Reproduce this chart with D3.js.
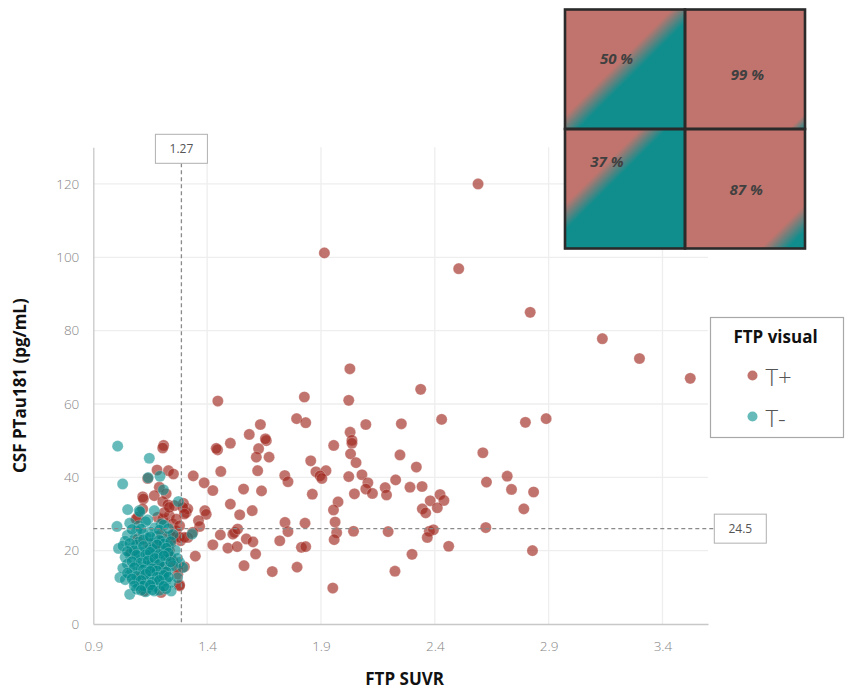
<!DOCTYPE html>
<html>
<head>
<meta charset="utf-8">
<script src="https://cdn.jsdelivr.net/npm/d3@7"></script>
<style>
  html, body { margin: 0; padding: 0; background: #fff; }
  svg { display: block; font-family: "Open Sans", "Noto Sans", sans-serif; }
</style>
</head>
<body>
<div id="chart"></div>
<script>
// ---------------- DATA ----------------
const xTicks = [0.9, 1.4, 1.9, 2.4, 2.9, 3.4];
const yTicks = [0, 20, 40, 60, 80, 100, 120];
const xDomain = [0.9, 3.6];
const yDomain = [0, 130];

const seriesNames = ["T+", "T-"];
const legendTitle = "FTP visual";
const xTitle = "FTP SUVR";
const yTitle = "CSF PTau181 (pg/mL)";

// cut-offs: position, printed label
const ftpCut = 1.287, ftpCutLabel = "1.27";
const ptauCut = 26.0, ptauCutLabel = "24.5";

// inset quadrant percentages: [top-left, top-right, bottom-left, bottom-right]
const quadPct = [50, 99, 37, 87];

// FTP visual T+ (x = FTP SUVR, y = CSF PTau181)
const tPlus = [
  [2.59,120.0],[1.915,101.2],[2.505,96.9],[2.819,85.0],[3.136,77.8],[3.299,72.4],[3.522,67.0],
  [2.027,69.6],[1.827,61.9],[2.022,61.0],[2.338,64.0],[1.447,60.8],
  [1.793,56.0],[1.833,54.9],[2.097,54.4],[2.253,54.6],[2.430,55.8],[2.798,55.0],[2.889,56.0],
  [1.634,54.4],[1.585,51.7],[1.502,49.3],[1.660,50.0],[1.656,50.5],[1.446,47.5],[1.440,47.9],
  [1.626,47.8],[1.616,45.5],[1.672,45.5],
  [1.956,48.7],[2.028,52.3],[2.036,50.1],[2.036,49.3],[2.030,46.4],[2.247,46.1],[2.611,46.7],
  [1.855,44.5],[2.054,44.0],[2.319,42.8],[1.878,41.5],[1.922,41.8],[1.896,40.4],[1.904,39.7],
  [1.741,40.5],[1.755,38.8],[2.022,40.2],[2.080,40.7],[2.228,39.3],[2.106,38.5],[2.718,40.3],[2.627,38.7],
  [1.862,35.4],[2.097,36.8],[2.126,35.6],[2.047,35.5],[2.182,37.2],[2.188,35.2],[2.291,37.3],
  [2.344,37.5],[2.737,36.7],[2.834,36.0],[2.423,35.3],[2.440,33.7],[2.380,33.6],[1.975,33.3],
  [1.955,31.1],[2.345,31.4],[2.360,30.3],[2.411,31.7],[2.791,31.4],
  [1.742,27.7],[1.830,27.5],[1.962,27.8],[1.755,25.2],[1.969,24.9],[2.043,25.3],[2.195,25.2],
  [2.376,25.3],[2.394,25.7],[2.624,26.3],
  [1.719,22.7],[1.958,23.0],[2.367,23.6],[1.814,20.9],[1.833,21.1],[2.461,21.2],[2.829,20.0],
  [2.300,19.0],[1.795,15.5],[2.225,14.4],[1.952,9.8],
  [1.460,41.6],[1.622,41.8],[1.339,40.4],[1.387,38.5],[1.425,36.4],[1.560,36.8],[1.639,36.3],
  [1.502,32.7],[1.543,29.8],[1.598,30.9],
  [1.521,25.0],[1.513,24.5],[1.534,25.9],[1.458,24.3],[1.425,21.6],[1.491,20.7],[1.532,21.1],
  [1.572,23.2],[1.601,22.4],[1.613,19.1],[1.562,15.9],[1.686,14.3],
  [1.390,30.9],[1.396,29.9],[1.362,28.2],[1.367,26.6],[1.348,18.5],[1.337,25.0],[1.308,30.4],
  [1.315,31.4],[1.296,32.9],[1.283,22.7],[1.315,23.6],[1.300,15.6],[1.279,10.7],
  [1.209,48.7],[1.205,48.0],[1.180,42.0],[1.230,41.8],[1.252,40.9],[1.139,39.7],
  [1.190,37.3],[1.117,34.7],[1.120,34.1],[1.168,35.0],[1.220,35.5],[1.205,33.4],[1.227,32.5],[1.256,32.3],
  [1.095,29.1],[1.117,31.4],[1.183,29.1],[1.205,28.6],[1.234,29.5],[1.249,27.3],[1.264,25.4],
  [1.256,23.6],[1.242,22.2],[1.234,20.0],[1.249,17.2],[1.271,15.4],[1.271,13.6],[1.066,19.5],
  [1.190,20.9],[1.124,9.0],[1.198,8.6],[1.088,28.6],[1.212,30.4],[1.242,24.1],[1.279,23.6],
  [1.300,23.6],[1.279,10.4],[1.234,31.8],[1.293,31.8],[1.300,30.0],[1.264,28.6],[1.279,26.8],
  [1.183,21.5],[1.212,15.4],[1.095,23.2],[1.140,22.0],[1.170,16.0],[1.200,24.5],[1.110,13.0],[1.230,18.5]
];

// FTP visual T-
const tMinus = [
  [1.007,48.5],[1.146,45.2],[1.141,39.9],[1.193,40.3],[1.029,38.2],[1.208,36.6],[1.274,33.4],
  [1.051,31.2],[1.102,30.9],[1.168,30.9],[1.004,26.6],[1.011,20.6],[1.017,12.7],[1.060,8.1],
  [1.242,9.0],[1.168,9.0],[1.279,16.8],[1.293,15.4],[1.334,24.5],[1.139,28.4],[1.198,27.3],[1.105,30.6],
  [1.06,27.5],[1.10,26.8],[1.13,27.9],[1.17,26.2],[1.21,27.0],[1.09,25.4],[1.15,25.1],
  [1.05,24.2],[1.08,23.1],[1.12,24.6],[1.14,23.4],[1.18,24.0],[1.22,23.8],[1.25,24.4],[1.04,22.6],
  [1.10,22.4],[1.16,22.1],[1.20,22.7],
  [1.03,21.3],[1.07,20.8],[1.09,21.6],[1.13,20.2],[1.15,21.0],[1.19,20.5],[1.23,21.4],[1.26,20.1],
  [1.11,19.6],[1.17,19.2],[1.21,19.8],[1.06,19.0],
  [1.04,18.2],[1.08,17.6],[1.10,18.5],[1.12,17.1],[1.14,18.8],[1.16,17.4],[1.18,18.1],[1.20,16.9],
  [1.22,17.7],[1.24,18.4],[1.27,17.9],[1.05,16.4],[1.09,16.1],[1.13,15.8],[1.15,16.6],
  [1.03,15.2],[1.07,14.6],[1.11,15.0],[1.14,14.2],[1.17,15.4],[1.19,14.0],[1.21,15.6],[1.23,14.8],
  [1.25,15.9],[1.06,13.4],[1.10,13.1],[1.16,13.7],[1.20,12.9],[1.12,12.4],
  [1.04,12.1],[1.08,11.6],[1.13,11.2],[1.15,12.2],[1.18,11.5],[1.22,12.0],[1.24,11.3],[1.27,12.6],
  [1.10,10.5],[1.17,10.2],[1.20,10.8],[1.14,9.8],[1.09,9.5],[1.19,9.2],[1.13,8.8],[1.22,9.6],
  [1.07,25.8],[1.11,25.9],[1.19,25.6],[1.23,26.0],[1.06,22.0],[1.12,23.0],[1.15,23.8],[1.19,22.9],
  [1.21,21.9],[1.24,22.5],[1.08,20.0],[1.12,21.2],[1.16,20.4],[1.18,21.6],[1.22,20.7],[1.05,19.8],
  [1.09,18.8],[1.13,18.9],[1.15,19.6],[1.19,19.0],[1.23,19.4],[1.07,17.0],[1.11,16.7],[1.14,17.2],
  [1.17,17.9],[1.19,16.3],[1.21,18.6],[1.24,16.9],[1.08,15.4],[1.12,14.8],[1.16,15.1],[1.18,14.5],
  [1.22,14.2],[1.05,13.9],[1.09,13.0],[1.13,13.6],[1.15,14.4],[1.18,12.8],[1.21,13.3],[1.23,12.8],
  [1.07,12.3],[1.11,11.9],[1.16,11.4],[1.19,11.9],[1.12,10.4],[1.15,10.6],[1.21,10.3],[1.08,10.4],
  [1.16,9.3],[1.11,9.2]
];

// ---------------- LAYOUT ----------------
const W = 845, H = 693;
const margin = { left: 93.3, right: 137, top: 147.3, bottom: 69 };
const colPlus = "rgb(160,40,30)", colMinus = "rgb(0,140,140)";
const salmon = "#c1746d", tealDark = "#108e8e";

const svg = d3.select("#chart").append("svg").attr("width", W).attr("height", H);

const x = d3.scaleLinear().domain(xDomain).range([margin.left, W - margin.right]);
const y = d3.scaleLinear().domain(yDomain).range([H - margin.bottom, margin.top]);

// gridlines
const grid = svg.append("g");
grid.selectAll("line.gx").data(xTicks.slice(1)).join("line")
  .attr("x1", d => x(d)).attr("x2", d => x(d))
  .attr("y1", y(yDomain[0])).attr("y2", y(yDomain[1]))
  .attr("stroke", "#eeeeee").attr("stroke-width", 1.3);
grid.selectAll("line.gy").data(yTicks.slice(1)).join("line")
  .attr("x1", x(xDomain[0])).attr("x2", x(xDomain[1]))
  .attr("y1", d => y(d)).attr("y2", d => y(d))
  .attr("stroke", "#eeeeee").attr("stroke-width", 1.3);

// axes
const xAxis = svg.append("g").attr("transform", `translate(0,${y(0)})`)
  .call(d3.axisBottom(x).tickValues(xTicks).tickSize(0).tickPadding(17).tickFormat(d3.format(".1f")));
const yAxis = svg.append("g").attr("transform", `translate(${x(xDomain[0])},0)`)
  .call(d3.axisLeft(y).tickValues(yTicks).tickSize(0).tickPadding(14));
[xAxis, yAxis].forEach(a => {
  a.select(".domain").attr("stroke", "#c8c8c8").attr("stroke-width", 1.3);
  a.selectAll("text").attr("fill", "#858585").attr("font-size", 13.5)
    .attr("font-weight", 300).attr("font-family", "'Open Sans', sans-serif");
});

// points
const ptG = svg.append("g");
ptG.selectAll("circle.p").data(tPlus).join("circle")
  .attr("cx", d => x(d[0])).attr("cy", d => y(d[1])).attr("r", 5.6)
  .attr("fill", colPlus).attr("fill-opacity", 0.65)
  .attr("stroke", "#fff").attr("stroke-width", 0.6).attr("stroke-opacity", 0.4);
ptG.selectAll("circle.m").data(tMinus).join("circle")
  .attr("cx", d => x(d[0])).attr("cy", d => y(d[1])).attr("r", 5.6)
  .attr("fill", colMinus).attr("fill-opacity", 0.6)
  .attr("stroke", "#fff").attr("stroke-width", 0.6).attr("stroke-opacity", 0.35);

// cut-off lines
const cutG = svg.append("g");
const vBox = { w: 52, h: 29 };
const vTop = 134.3;
cutG.append("line")
  .attr("x1", x(ftpCut)).attr("x2", x(ftpCut))
  .attr("y1", vTop + vBox.h).attr("y2", y(0))
  .attr("stroke", "#8a8a8a").attr("stroke-width", 1.3).attr("stroke-dasharray", "4,3");
cutG.append("rect").attr("x", x(ftpCut) - vBox.w / 2).attr("y", vTop)
  .attr("width", vBox.w).attr("height", vBox.h)
  .attr("fill", "#fff").attr("stroke", "#b0b0b0");
cutG.append("text").attr("x", x(ftpCut)).attr("y", vTop + vBox.h / 2)
  .attr("text-anchor", "middle").attr("dominant-baseline", "central")
  .attr("font-size", 12).attr("fill", "#555").text(ftpCutLabel);

const hBoxX = 714.3;
cutG.append("line")
  .attr("x1", x(xDomain[0])).attr("x2", hBoxX)
  .attr("y1", y(ptauCut)).attr("y2", y(ptauCut))
  .attr("stroke", "#8a8a8a").attr("stroke-width", 1.3).attr("stroke-dasharray", "4,3");
cutG.append("rect").attr("x", hBoxX).attr("y", y(ptauCut) - vBox.h / 2)
  .attr("width", vBox.w).attr("height", vBox.h)
  .attr("fill", "#fff").attr("stroke", "#b0b0b0");
cutG.append("text").attr("x", hBoxX + vBox.w / 2).attr("y", y(ptauCut))
  .attr("text-anchor", "middle").attr("dominant-baseline", "central")
  .attr("font-size", 12).attr("fill", "#555").text(ptauCutLabel);

// axis titles
svg.append("text").attr("x", (x(xDomain[0]) + x(xDomain[1])) / 2 + 4).attr("y", 685)
  .attr("text-anchor", "middle").attr("font-weight", 700).attr("font-size", 17)
  .attr("fill", "#111").text(xTitle);
svg.append("text")
  .attr("transform", `translate(26,${(y(yDomain[0]) + y(yDomain[1])) / 2}) rotate(-90)`)
  .attr("text-anchor", "middle").attr("font-weight", 700).attr("font-size", 17)
  .attr("fill", "#111").text(yTitle);

// legend
const lg = svg.append("g").attr("transform", "translate(710.5,317.5)");
lg.append("rect").attr("width", 133).attr("height", 120)
  .attr("fill", "#fff").attr("stroke", "#a8a8a8").attr("stroke-width", 1.2);
lg.append("text").attr("x", 65).attr("y", 25).attr("text-anchor", "middle")
  .attr("font-weight", 700).attr("font-size", 17).attr("fill", "#111").text(legendTitle);
const legendCols = [salmon, "#66baba"];
seriesNames.forEach((s, i) => {
  const cy = 58 + i * 41;
  lg.append("circle").attr("cx", 42).attr("cy", cy).attr("r", 5).attr("fill", legendCols[i]);
  lg.append("text").attr("x", 55).attr("y", cy + 1).attr("dominant-baseline", "central")
    .attr("font-size", 24).attr("font-weight", 300).attr("fill", "#555").text(s);
});

// inset quadrant panel
const inset = { x: 565, y: 9.5, cw: 120, ch: 119.5 };
const defs = svg.append("defs");
const labelPos = [[0.43, 0.41], [0.52, 0.54], [0.35, 0.27], [0.51, 0.50]];
const ig = svg.append("g");
quadPct.forEach((p, i) => {
  const col = i % 2, row = Math.floor(i / 2);
  const f = p / 100;
  const gid = "qg" + i;
  const grad = defs.append("linearGradient").attr("id", gid)
    .attr("x1", 0).attr("y1", 0).attr("x2", 1).attr("y2", 1);
  grad.append("stop").attr("offset", Math.max(0, f - 0.055)).attr("stop-color", salmon);
  grad.append("stop").attr("offset", Math.min(1, f + 0.055)).attr("stop-color", tealDark);
  const cx0 = inset.x + col * inset.cw, cy0 = inset.y + row * inset.ch;
  ig.append("rect").attr("x", cx0).attr("y", cy0).attr("width", inset.cw).attr("height", inset.ch)
    .attr("fill", `url(#${gid})`);
  ig.append("text").attr("x", cx0 + labelPos[i][0] * inset.cw).attr("y", cy0 + labelPos[i][1] * inset.ch)
    .attr("text-anchor", "middle").attr("dominant-baseline", "central")
    .attr("font-size", 15).attr("font-weight", 700).attr("font-style", "italic")
    .attr("fill", "#404040").text(p + " %");
});
quadPct.forEach((p, i) => {
  const col = i % 2, row = Math.floor(i / 2);
  ig.append("rect").attr("x", inset.x + col * inset.cw).attr("y", inset.y + row * inset.ch)
    .attr("width", inset.cw).attr("height", inset.ch)
    .attr("fill", "none").attr("stroke", "#2a2a2a").attr("stroke-width", 2.6);
});
</script>
</body>
</html>
